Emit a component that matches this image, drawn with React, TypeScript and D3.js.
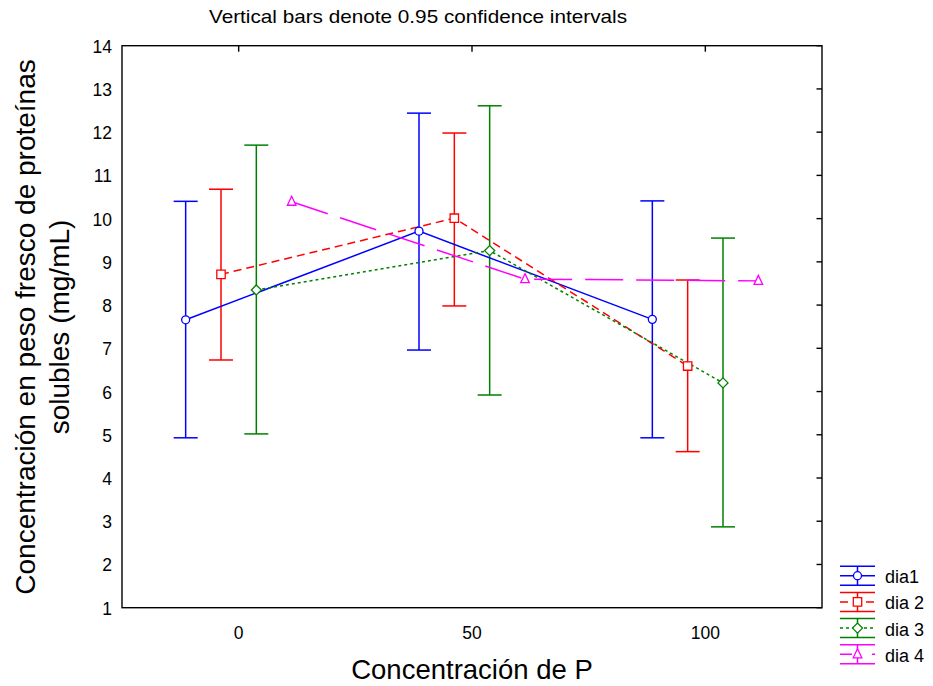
import React from "react";
import * as d3 from "d3";

// ---- data ----
const categories = ["0", "50", "100"];
const seriesNames = ["dia1", "dia 2", "dia 3", "dia 4"];
const seriesColors = ["#0000FF", "#FF0000", "#008000", "#FF00FF"];
const seriesDash = ["none", "8,5", "3,3", "38,13"];
const seriesMarkers = ["circle", "square", "diamond", "triangle"];

const dia1Mean = [7.66, 9.71, 7.67];
const dia1Low = [4.93, 6.96, 4.93];
const dia1High = [10.4, 12.44, 10.41];

const dia2Mean = [8.71, 10.01, 6.59];
const dia2Low = [6.73, 7.98, 4.61];
const dia2High = [10.68, 11.98, 8.58];

const dia3Mean = [8.35, 9.26, 6.2];
const dia3Low = [5.02, 5.92, 2.87];
const dia3High = [11.7, 12.61, 9.55];

const dia4Mean = [10.39, 8.6, 8.56];

const yTickValues = [1, 2, 3, 4, 5, 6, 7, 8, 9, 10, 11, 12, 13, 14];

const titleText = "Vertical bars denote 0.95 confidence intervals";
const xTitle = "Concentración de P";
const yTitle1 = "Concentración en peso fresco de proteínas";
const yTitle2 = "solubles (mg/mL)";

const seriesData = [
  { mean: dia1Mean, low: dia1Low, high: dia1High },
  { mean: dia2Mean, low: dia2Low, high: dia2High },
  { mean: dia3Mean, low: dia3Low, high: dia3High },
  { mean: dia4Mean, low: null as number[] | null, high: null as number[] | null },
];

// ---- layout ----
const W = 933;
const H = 686;
const left = 122;
const right = 822;
const top = 45.7;
const bottom = 607.7;
const FONT = "'Liberation Sans', Arial, sans-serif";

function markerPath(kind: string, cx: number, cy: number): string {
  if (kind === "circle") {
    const r = 4;
    return `M${cx - r},${cy}a${r},${r} 0 1,0 ${2 * r},0a${r},${r} 0 1,0 ${-2 * r},0Z`;
  }
  if (kind === "square") {
    const s = 4.2;
    return `M${cx - s},${cy - s}H${cx + s}V${cy + s}H${cx - s}Z`;
  }
  if (kind === "diamond") {
    const s = 5;
    return `M${cx},${cy - s}L${cx + s},${cy}L${cx},${cy + s}L${cx - s},${cy}Z`;
  }
  // triangle
  const hw = 4.3;
  return `M${cx},${cy - 5.5}L${cx + hw},${cy + 3.5}L${cx - hw},${cy + 3.5}Z`;
}

export default function App() {
  const x = d3.scaleBand<string>().domain(categories).range([left, right]).padding(0);
  const inner = d3.scalePoint<string>().domain(seriesNames).range([-53, 53]);
  const y = d3.scaleLinear().domain([1, 14]).range([bottom, top]);
  const cx = (c: string, s: string) => (x(c) as number) + x.bandwidth() / 2 + (inner(s) as number);
  const capHalf = 12;
  const line = d3.line<[number, number]>().x((d) => d[0]).y((d) => d[1]);

  const legendX0 = 840;
  const legendX1 = 875;
  const legendY0 = 575.7;
  const legendStep = 26.2;
  const legendCap = 9.5;

  return (
    <svg
      width={W}
      height={H}
      style={{ position: "absolute", left: 0, top: 0, background: "#fff" }}
      fontFamily={FONT}
    >
      <rect x={0} y={0} width={W} height={H} fill="#fff" />
      {/* title */}
      <text x={209} y={22.7} fontSize={19} textLength={418} lengthAdjust="spacingAndGlyphs" fill="#000">
        {titleText}
      </text>

      {/* frame */}
      <rect x={left} y={top} width={right - left} height={bottom - top} fill="none" stroke="#000" strokeWidth={1.4} />
      {/* top ticks */}
      {categories.map((c) => {
        const xc = (x(c) as number) + x.bandwidth() / 2;
        return <line key={"tt" + c} x1={xc} x2={xc} y1={top} y2={top + 6} stroke="#000" strokeWidth={1.4} />;
      })}
      {/* right ticks */}
      {yTickValues.map((v) => (
        <line key={"rt" + v} x1={right - 5.5} x2={right} y1={y(v)} y2={y(v)} stroke="#000" strokeWidth={1.4} />
      ))}
      {/* y tick labels */}
      {yTickValues.map((v) => (
        <text key={"yl" + v} x={112} y={y(v) + 7} fontSize={17.5} textAnchor="end" fill="#000">
          {v}
        </text>
      ))}
      {/* x tick labels */}
      {categories.map((c) => (
        <text key={"xl" + c} x={(x(c) as number) + x.bandwidth() / 2} y={639} fontSize={17.5} textAnchor="middle" fill="#000">
          {c}
        </text>
      ))}
      {/* axis titles */}
      <text x={472} y={679} fontSize={27.5} textAnchor="middle" fill="#000">
        {xTitle}
      </text>
      <text transform={`translate(35,327) rotate(-90)`} fontSize={28} textAnchor="middle" fill="#000">
        {yTitle1}
      </text>
      <text transform={`translate(68.5,327) rotate(-90)`} fontSize={28} textAnchor="middle" fill="#000">
        {yTitle2}
      </text>

      {/* error bars */}
      {seriesData.map((sd, si) => {
        if (!sd.low || !sd.high) return null;
        const s = seriesNames[si];
        return (
          <g key={"eb" + si} stroke={seriesColors[si]} strokeWidth={1.5} fill="none">
            {categories.map((c, ci) => {
              const px = cx(c, s);
              const yl = y((sd.low as number[])[ci]);
              const yh = y((sd.high as number[])[ci]);
              return (
                <g key={c}>
                  <line x1={px} x2={px} y1={yh} y2={yl} />
                  <line x1={px - capHalf} x2={px + capHalf} y1={yh} y2={yh} />
                  <line x1={px - capHalf} x2={px + capHalf} y1={yl} y2={yl} />
                </g>
              );
            })}
          </g>
        );
      })}

      {/* lines */}
      {seriesData.map((sd, si) => {
        const s = seriesNames[si];
        const pts: [number, number][] = categories.map((c, ci) => [cx(c, s), y(sd.mean[ci])]);
        return (
          <path
            key={"ln" + si}
            d={line(pts) as string}
            fill="none"
            stroke={seriesColors[si]}
            strokeWidth={1.5}
            strokeDasharray={seriesDash[si]}
          />
        );
      })}

      {/* markers */}
      {seriesData.map((sd, si) => {
        const s = seriesNames[si];
        return (
          <g key={"mk" + si}>
            {categories.map((c, ci) => (
              <path
                key={c}
                d={markerPath(seriesMarkers[si], cx(c, s), y(sd.mean[ci]))}
                fill="#fff"
                stroke={seriesColors[si]}
                strokeWidth={1.3}
              />
            ))}
          </g>
        );
      })}

      {/* legend */}
      {seriesNames.map((s, si) => {
        const ly = legendY0 + si * legendStep;
        const mx = (legendX0 + legendX1) / 2;
        return (
          <g key={"lg" + si}>
            <g stroke={seriesColors[si]} strokeWidth={1.5} fill="none">
              <line x1={legendX0} x2={legendX1} y1={ly - legendCap} y2={ly - legendCap} />
              <line x1={legendX0} x2={legendX1} y1={ly + legendCap} y2={ly + legendCap} />
              <line x1={mx} x2={mx} y1={ly - legendCap} y2={ly + legendCap} />
              <line
                x1={legendX0}
                x2={legendX1}
                y1={ly}
                y2={ly}
                strokeDasharray={si === 3 ? "12,20,3" : seriesDash[si]}
              />
            </g>
            <path d={markerPath(seriesMarkers[si], mx, ly)} fill="#fff" stroke={seriesColors[si]} strokeWidth={1.3} />
            <text x={885} y={ly + 7.5} fontSize={18} fill="#000">
              {s}
            </text>
          </g>
        );
      })}
    </svg>
  );
}
